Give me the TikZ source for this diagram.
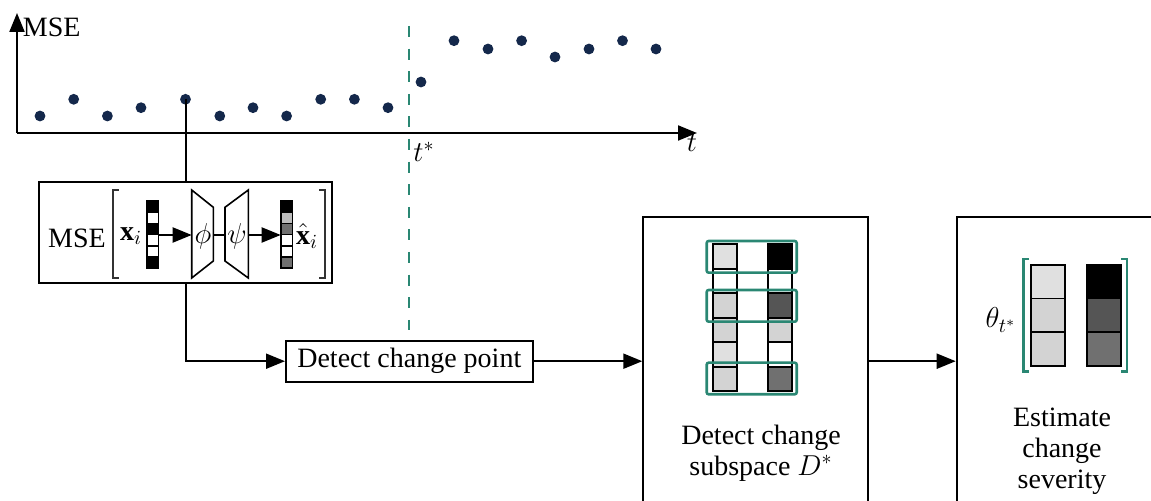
\documentclass[tikz,border=0pt]{standalone}
\usepackage{fontspec}
\setmainfont{Liberation Serif}
\usetikzlibrary{arrows.meta,calc}
\definecolor{tealc}{RGB}{42,135,115}
\definecolor{navyc}{RGB}{20,40,75}
\definecolor{lg}{HTML}{E0E0E0}
\definecolor{mg}{HTML}{D3D3D3}
\definecolor{dg}{HTML}{555555}
\definecolor{gg}{HTML}{707070}
\definecolor{sg}{HTML}{BDBDBD}
\begin{document}
\begin{tikzpicture}[x=0.5pt,y=-0.5pt,
  font=\fontsize{14}{15.5}\selectfont,
  line width=1pt,
  arr/.style={-{Triangle[length=9.5pt,width=7.5pt]}},
  box/.style={draw, line width=1pt, inner sep=0pt},
  dotn/.style={circle, fill=navyc, inner sep=0pt, minimum size=5.4pt},
  cell/.style={draw, line width=0.8pt},
  grp/.style={draw=tealc, line width=1.3pt, rounded corners=1pt},
  lbl/.style={inner sep=0pt},
]
\useasboundingbox (0,0) rectangle (1151,501);
\clip (0,0) rectangle (1151,501);

% ---------- plot ----------
\coordinate (O) at (17,133);
\coordinate (ytop) at (17,13);
\coordinate (xend) at (697,133);
\draw[arr] (O) -- (ytop);
\draw[arr] (O) -- (xend);
\node[lbl, anchor=west] (ylab) at (22,27) {MSE};
\node[lbl] (xlab) at (692,143) {$t$};

\foreach \i/\x/\y in {1/40/116, 2/73.7/99.3, 3/107.4/116, 4/141/107.7, 5/185.5/99.3,
  6/219.8/116, 7/253/107.7, 8/286.6/116, 9/320.7/99.3, 10/354.4/99.3, 11/388/107.7,
  12/421/82, 13/454/40.7, 14/488/49, 15/521.6/40.7, 16/555/57, 17/589/49, 18/622.5/40.7, 19/656/49}
  \node[dotn] (d\i) at (\x,\y) {};

\coordinate (dtop) at (409,26);
\coordinate (dbot) at (409,330);
\draw[tealc, line width=1pt, dash pattern=on 5.5pt off 5.8pt] (dtop) -- (dbot);
\node[lbl] (tstar) at (424,152) {$t^{*}$};

% ---------- MSE box ----------
\node[box, minimum width=146.2pt, minimum height=50.5pt] (mse) at (185.5,232.8) {};
\node[lbl] (msel) at (77,238) {MSE};
\draw[line width=0.8pt, black!80] (118.7,190) -- (112.7,190) -- (112.7,278) -- (118.7,278);
\draw[line width=0.8pt, black!80] (319,190) -- (325,190) -- (325,278) -- (319,278);
\node[lbl] (xi) at (131,236) {$\mathbf{x}_i$};
\node[lbl] (xhi) at (307,236) {$\hat{\mathbf{x}}_i$};

% input vector
\foreach \k/\f in {0/black,1/white,2/black,3/white,4/white,5/black}
  \filldraw[cell, fill=\f] (146.7,201+\k*11.2) rectangle (158.3,201+\k*11.2+11.2);
% output vector
\foreach \k/\f in {0/black,1/sg,2/gg,3/white,4/white,5/gg}
  \filldraw[cell, fill=\f] (280.7,201+\k*11.2) rectangle (292.3,201+\k*11.2+11.2);
\coordinate (vin) at (158.3,235);
\coordinate (vout) at (280.7,235);

% encoder / decoder
\draw[line width=0.8pt] (191.7,190) -- (213.3,207.3) -- (213.3,261) -- (191.7,278) -- cycle;
\draw[line width=0.8pt] (225,207.3) -- (248.3,190) -- (248.3,278) -- (225,261) -- cycle;
\coordinate (encin) at (191.7,235);
\coordinate (encout) at (213.3,235);
\coordinate (decin) at (225,235);
\coordinate (decout) at (248.3,235);
\node[lbl] (phil) at (203,236) {$\phi$};
\node[lbl] (psil) at (237,236) {$\psi$};
\draw[arr] (vin) -- (encin);
\draw (encout) -- (decin);
\draw[arr] (decout) -- (vout);

% ---------- change point ----------
\node[box, minimum width=123.3pt, minimum height=20.5pt] (cp) at (409.3,361.2) {};
\node[lbl] (cpl) at (cp.center) {Detect change point};

\draw (d5.center) -- (d5.center |- mse.north);
\draw[arr] (d5.center |- mse.south) |- (cp.west);

% ---------- subspace box ----------
\node[box, minimum width=112.2pt, minimum height=160pt] (ss) at (755.5,376.7) {};
\foreach \k/\f/\g in {0/lg/black,1/white/white,2/mg/dg,3/mg/mg,4/lg/white,5/mg/gg}{
  \filldraw[cell, fill=\f] (712.7,244.3+\k*24.5) rectangle (736.7,244.3+\k*24.5+24.5);
  \filldraw[cell, fill=\g] (767.7,244.3+\k*24.5) rectangle (791.7,244.3+\k*24.5+24.5);
}
\draw[grp] (706.7,241) rectangle (796.7,272.7);
\draw[grp] (706.7,290) rectangle (796.7,321.7);
\draw[grp] (706.7,362.7) rectangle (796.7,394.3);
\node[lbl, align=center] (ssl) at (761,453) {Detect change\\subspace $D^{*}$};

% ---------- severity box ----------
\node[box, minimum width=115pt, minimum height=160pt] (sev) at (1071.7,377.3) {};
\draw[tealc, line width=1.2pt] (1029,259.3) -- (1023.3,259.3) -- (1023.3,371.7) -- (1029,371.7);
\draw[tealc, line width=1.2pt] (1121,259.3) -- (1126.7,259.3) -- (1126.7,371.7) -- (1121,371.7);
\foreach \k/\f/\g in {0/lg/black,1/mg/dg,2/mg/gg}{
  \filldraw[cell, fill=\f] (1030.7,265+\k*33.6) rectangle (1064.7,265+\k*33.6+33.6);
  \filldraw[cell, fill=\g] (1086.7,265+\k*33.6) rectangle (1120.7,265+\k*33.6+33.6);
}
\node[lbl] (theta) at (1001,320) {$\theta_{t^{*}}$};
\node[lbl, align=center] (sevl) at (1062,451) {Estimate\\change\\severity};

\draw[arr] (cp.east) -- (cp.east -| ss.west);
\draw[arr] (cp.east -| ss.east) -- (cp.east -| sev.west);
\end{tikzpicture}
\end{document}
